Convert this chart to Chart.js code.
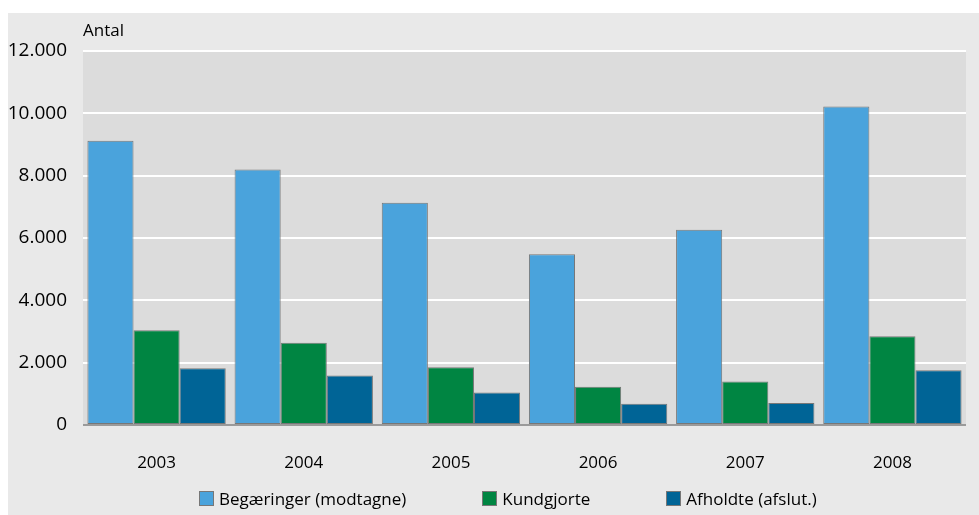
<!DOCTYPE html>
<html lang="da">
<head>
<meta charset="UTF-8">
<title>Antal</title>
<script src="https://cdn.jsdelivr.net/npm/chart.js"></script>
<style>
    body { margin: 0; background: #fff; font-family: "Open Sans", sans-serif; }
    #panel { position: absolute; left: 8px; top: 13px; width: 971px; height: 502px; background: #e9e9e9; }
    #legend { position: absolute; left: 191px; top: 474px; display: flex; gap: 76px; font-size: 17px; color: #000; }
    .item { display: flex; align-items: center; }
    .box { width: 13px; height: 13px; border: 1px solid #777; margin-right: 5px; }
</style>
</head>
<body>
<div id="panel">
    <canvas id="barChart"></canvas>
    <div id="legend"></div>
</div>
<script>
    const years = ['2003', '2004', '2005', '2006', '2007', '2008'];
    const begaeringer = [9120, 8200, 7135, 5480, 6265, 10220];
    const kundgjorte = [3040, 2640, 1855, 1230, 1395, 2845];
    const afholdte = [1820, 1590, 1040, 685, 705, 1760];
    const seriesNames = ['Begæringer (modtagne)', 'Kundgjorte', 'Afholdte (afslut.)'];
    const seriesColors = ['#4aa3dc', '#008542', '#006496'];

    // grey plot background behind the grid
    const plotBg = {
        id: 'plotBg',
        beforeDraw(chart) {
            const { ctx, chartArea: a } = chart;
            ctx.save();
            ctx.fillStyle = '#dcdcdc';
            ctx.fillRect(a.left, a.top, a.right - a.left, a.bottom - a.top);
            ctx.restore();
        }
    };

    // "Antal" unit label above the y axis
    const unitLabel = {
        id: 'unitLabel',
        afterDraw(chart) {
            const { ctx, chartArea: a } = chart;
            ctx.save();
            ctx.font = '17px "Open Sans"';
            ctx.fillStyle = '#000';
            ctx.textBaseline = 'middle';
            ctx.fillText('Antal', a.left, 18);
            ctx.restore();
        }
    };

    const datasets = [begaeringer, kundgjorte, afholdte].map((data, i) => ({
        label: seriesNames[i],
        data: data,
        backgroundColor: seriesColors[i],
        borderColor: '#777',
        borderWidth: 1,
        borderSkipped: false,
        categoryPercentage: 0.94,
        barPercentage: 1.0
    }));

    new Chart(document.getElementById('barChart'), {
        type: 'bar',
        data: { labels: years, datasets: datasets },
        options: {
            responsive: true,
            maintainAspectRatio: false,
            animation: false,
            layout: { padding: { top: 38, right: 13, left: 0, bottom: 0 } },
            plugins: { legend: { display: false }, tooltip: { enabled: false } },
            scales: {
                x: {
                    grid: { display: false },
                    border: { display: false },
                    ticks: { color: '#000', font: { family: 'Open Sans', size: 17 }, padding: 20 },
                    afterFit: (scale) => { scale.height = 90; }
                },
                y: {
                    min: 0,
                    max: 12000,
                    border: { display: false },
                    grid: {
                        drawTicks: false,
                        lineWidth: 2,
                        color: (c) => c.tick && c.tick.value === 0 ? '#9a9a9a' : '#ffffff'
                    },
                    ticks: {
                        stepSize: 2000,
                        color: '#000',
                        padding: 16,
                        font: { family: 'Open Sans', size: 19 },
                        callback: (v) => String(v).replace(/\B(?=(\d{3})+(?!\d))/g, '.')
                    },
                    afterFit: (scale) => { scale.width = 75; }
                }
            }
        },
        plugins: [plotBg, unitLabel]
    });

    // legend
    const legend = document.getElementById('legend');
    seriesNames.forEach((name, i) => {
        const item = document.createElement('div');
        item.className = 'item';
        item.innerHTML = '<span class="box" style="background:' + seriesColors[i] + '"></span>' + name;
        legend.appendChild(item);
    });
</script>
</body>
</html>
